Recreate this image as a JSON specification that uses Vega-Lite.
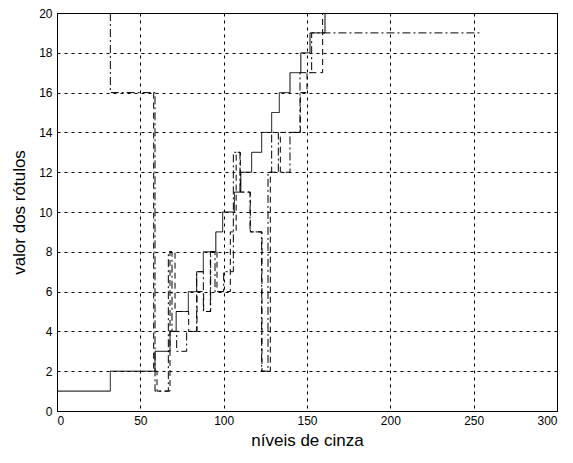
{
  "$schema": "https://vega.github.io/schema/vega-lite/v6.json",
  "autosize": {"type": "none"},
  "width": 500,
  "height": 398,
  "padding": {"left": 57, "top": 13, "right": 16, "bottom": 52},
  "background": "white",
  "config": {
    "view": {"stroke": "black", "strokeWidth": 1},
    "axis": {
      "labelFont": "Liberation Sans", "titleFont": "Liberation Sans",
      "labelFontSize": 12, "titleFontSize": 17, "titleFontWeight": "normal",
      "labelColor": "black", "titleColor": "black",
      "domainColor": "black", "tickColor": "black",
      "gridColor": "black", "gridOpacity": 1, "gridDash": [3, 4], "gridWidth": 1,
      "ticks": false
    }
  },
  "data": {"values": [
    {"s":"a","i":0,"x":0,"y":1},{"s":"a","i":1,"x":32,"y":1},{"s":"a","i":2,"x":32,"y":2},{"s":"a","i":3,"x":58.8,"y":2},{"s":"a","i":4,"x":58.8,"y":3},{"s":"a","i":5,"x":67.8,"y":3},{"s":"a","i":6,"x":67.8,"y":4},{"s":"a","i":7,"x":71.5,"y":4},{"s":"a","i":8,"x":71.5,"y":5},{"s":"a","i":9,"x":78.8,"y":5},{"s":"a","i":10,"x":78.8,"y":6},{"s":"a","i":11,"x":83.8,"y":6},{"s":"a","i":12,"x":83.8,"y":7},{"s":"a","i":13,"x":87.8,"y":7},{"s":"a","i":14,"x":87.8,"y":8},{"s":"a","i":15,"x":95.3,"y":8},{"s":"a","i":16,"x":95.3,"y":9},{"s":"a","i":17,"x":99.4,"y":9},{"s":"a","i":18,"x":99.4,"y":10},{"s":"a","i":19,"x":106.5,"y":10},{"s":"a","i":20,"x":106.5,"y":11},{"s":"a","i":21,"x":110.3,"y":11},{"s":"a","i":22,"x":110.3,"y":12},{"s":"a","i":23,"x":116.8,"y":12},{"s":"a","i":24,"x":116.8,"y":13},{"s":"a","i":25,"x":122.8,"y":13},{"s":"a","i":26,"x":122.8,"y":14},{"s":"a","i":27,"x":128.8,"y":14},{"s":"a","i":28,"x":128.8,"y":15},{"s":"a","i":29,"x":133.4,"y":15},{"s":"a","i":30,"x":133.4,"y":16},{"s":"a","i":31,"x":139.8,"y":16},{"s":"a","i":32,"x":139.8,"y":17},{"s":"a","i":33,"x":146.3,"y":17},{"s":"a","i":34,"x":146.3,"y":18},{"s":"a","i":35,"x":151.8,"y":18},{"s":"a","i":36,"x":151.8,"y":19},{"s":"a","i":37,"x":160.8,"y":19},{"s":"a","i":38,"x":160.8,"y":20},{"s":"a","i":39,"x":255,"y":20},

    {"s":"b","i":0,"x":32,"y":20},{"s":"b","i":1,"x":32,"y":16},{"s":"b","i":2,"x":58.8,"y":16},{"s":"b","i":3,"x":58.8,"y":1},{"s":"b","i":4,"x":66.8,"y":1},{"s":"b","i":5,"x":66.8,"y":8},{"s":"b","i":6,"x":69,"y":8},{"s":"b","i":7,"x":69,"y":4},{"s":"b","i":8,"x":71.8,"y":4},{"s":"b","i":9,"x":71.8,"y":3},{"s":"b","i":10,"x":77.8,"y":3},{"s":"b","i":11,"x":77.8,"y":4},{"s":"b","i":12,"x":83.8,"y":4},{"s":"b","i":13,"x":83.8,"y":7},{"s":"b","i":14,"x":87.8,"y":7},{"s":"b","i":15,"x":87.8,"y":5},{"s":"b","i":16,"x":92.2,"y":5},{"s":"b","i":17,"x":92.2,"y":8},{"s":"b","i":18,"x":94.8,"y":8},{"s":"b","i":19,"x":94.8,"y":6},{"s":"b","i":20,"x":100,"y":6},{"s":"b","i":21,"x":100,"y":7},{"s":"b","i":22,"x":105.8,"y":7},{"s":"b","i":23,"x":105.8,"y":13},{"s":"b","i":24,"x":109.8,"y":13},{"s":"b","i":25,"x":109.8,"y":11},{"s":"b","i":26,"x":115.8,"y":11},{"s":"b","i":27,"x":115.8,"y":9},{"s":"b","i":28,"x":122.8,"y":9},{"s":"b","i":29,"x":122.8,"y":2},{"s":"b","i":30,"x":126.6,"y":2},{"s":"b","i":31,"x":126.6,"y":12},{"s":"b","i":32,"x":128.8,"y":12},{"s":"b","i":33,"x":128.8,"y":14},{"s":"b","i":34,"x":132.8,"y":14},{"s":"b","i":35,"x":132.8,"y":12},{"s":"b","i":36,"x":139.8,"y":12},{"s":"b","i":37,"x":139.8,"y":14},{"s":"b","i":38,"x":145.8,"y":14},{"s":"b","i":39,"x":145.8,"y":17},{"s":"b","i":40,"x":152.8,"y":17},{"s":"b","i":41,"x":152.8,"y":19},{"s":"b","i":42,"x":255,"y":19},

    {"s":"c","i":2,"x":58,"y":16},{"s":"c","i":3,"x":58,"y":2},{"s":"c","i":4,"x":60,"y":2},{"s":"c","i":5,"x":60,"y":1},{"s":"c","i":6,"x":67.8,"y":1},{"s":"c","i":7,"x":67.8,"y":8},{"s":"c","i":8,"x":70.8,"y":8},{"s":"c","i":9,"x":70.8,"y":5},{"s":"c","i":10,"x":79,"y":5},{"s":"c","i":11,"x":79,"y":4},{"s":"c","i":12,"x":84,"y":4},{"s":"c","i":13,"x":84,"y":6},{"s":"c","i":14,"x":88,"y":6},{"s":"c","i":15,"x":88,"y":5},{"s":"c","i":16,"x":92,"y":5},{"s":"c","i":17,"x":92,"y":8},{"s":"c","i":18,"x":96,"y":8},{"s":"c","i":19,"x":96,"y":6},{"s":"c","i":20,"x":104,"y":6},{"s":"c","i":21,"x":104,"y":9},{"s":"c","i":22,"x":107.5,"y":9},{"s":"c","i":23,"x":107.5,"y":13},{"s":"c","i":24,"x":110,"y":13},{"s":"c","i":25,"x":110,"y":11},{"s":"c","i":26,"x":116,"y":11},{"s":"c","i":27,"x":116,"y":9},{"s":"c","i":28,"x":123,"y":9},{"s":"c","i":29,"x":123,"y":2},{"s":"c","i":30,"x":128,"y":2},{"s":"c","i":31,"x":128,"y":12},{"s":"c","i":32,"x":134,"y":12},{"s":"c","i":33,"x":134,"y":14},{"s":"c","i":34,"x":141,"y":14},{"s":"c","i":35,"x":146,"y":14},{"s":"c","i":36,"x":146,"y":16},{"s":"c","i":37,"x":150,"y":16},{"s":"c","i":38,"x":150,"y":17},{"s":"c","i":39,"x":159.4,"y":17},{"s":"c","i":40,"x":159.4,"y":20}
  ]},
  "mark": {"type": "line", "color": "black", "strokeWidth": 1, "clip": true},
  "encoding": {
    "x": {"field": "x", "type": "quantitative", "scale": {"domain": [0, 300], "nice": false},
          "axis": {"values": [0, 50, 100, 150, 200, 250, 300], "title": "níveis de cinza", "labelPadding": 4, "titlePadding": 6}},
    "y": {"field": "y", "type": "quantitative", "scale": {"domain": [0, 20], "nice": false},
          "axis": {"values": [0, 2, 4, 6, 8, 10, 12, 14, 16, 18, 20], "title": "valor dos rótulos", "labelPadding": 5, "titlePadding": 10}},
    "detail": {"field": "s"},
    "order": {"field": "i", "type": "quantitative"},
    "strokeDash": {"field": "s", "type": "nominal", "legend": null,
                   "scale": {"domain": ["a", "b", "c"], "range": [[1, 0], [8, 3, 2, 3], [6, 4]]}}
  }
}
